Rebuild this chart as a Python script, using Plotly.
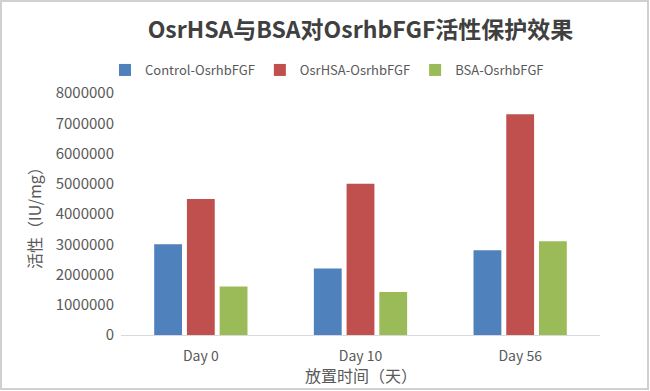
import plotly.graph_objects as go

categories = ["Day 0", "Day 10", "Day 56"]
control = [3000000, 2200000, 2800000]
osrhsa = [4500000, 5000000, 7300000]
bsa = [1600000, 1420000, 3100000]
series_names = ["Control-OsrhbFGF", "OsrHSA-OsrhbFGF", "BSA-OsrhbFGF"]
colors = ["#4F81BD", "#C0504D", "#9BBB59"]
tick_vals = [0, 1000000, 2000000, 3000000, 4000000, 5000000, 6000000, 7000000, 8000000]

W, H = 650, 391
ml, mr, mt, mb = 121, 50, 93, 56
pw, ph = W - ml - mr, H - mt - mb

fig = go.Figure()
for name, vals, c in zip(series_names, [control, osrhsa, bsa], colors):
    fig.add_trace(go.Bar(x=categories, y=vals, name=name, marker=dict(color=c, line=dict(width=0))))

def px_x(p):
    return (p - ml) / pw

def px_y(p):
    return (H - mb - p) / ph

font_fam = "Noto Sans CJK SC, Noto Sans, sans-serif"
fig.update_layout(
    width=W, height=H,
    margin=dict(l=ml, r=mr, t=mt, b=mb),
    paper_bgcolor="white", plot_bgcolor="white",
    barmode="group", bargap=0.385, bargroupgap=0.15,
    font=dict(family=font_fam, color="#595959", size=13),
    title=dict(text="<b>OsrHSA与BSA对OsrhbFGF活性保护效果</b>", x=0.5, xref="paper", xanchor="center",
               y=1 - 30 / H, yanchor="middle",
               font=dict(size=23, color="#404040", family=font_fam)),
    legend=dict(orientation="h", x=px_x(327), xanchor="center", y=px_y(70), yanchor="middle",
                font=dict(size=13, color="#595959"), itemwidth=30, traceorder="normal"),
    xaxis=dict(showline=True, linecolor="#D9D9D9", linewidth=1, ticks="", showgrid=False,
               automargin=False,
               tickfont=dict(size=14, color="#595959"), ticklabelstandoff=8),
    yaxis=dict(range=[0, 8000000], tickvals=tick_vals, tickformat="d", showgrid=False,
               automargin=False,
               showline=False, zeroline=False, ticks="", ticklabelstandoff=6,
               tickfont=dict(size=15, color="#595959"),
               title=dict(text="活性（IU/mg）", font=dict(size=16, color="#595959"), standoff=10)),
    annotations=[dict(text="放置时间（天）", xref="paper", yref="paper", x=0.5, y=px_y(375),
                      xanchor="center", yanchor="middle", showarrow=False,
                      font=dict(size=16, color="#595959"))],
    shapes=[dict(type="rect", xref="paper", yref="paper",
                 x0=px_x(1), x1=px_x(648), y0=px_y(389), y1=px_y(1),
                 line=dict(color="#D0D0D0", width=2), fillcolor="rgba(0,0,0,0)", layer="below")],
)

fig.write_html("out.html", config={"displayModeBar": False},
               post_script="document.body.style.margin='0';document.body.style.overflow='hidden';")
